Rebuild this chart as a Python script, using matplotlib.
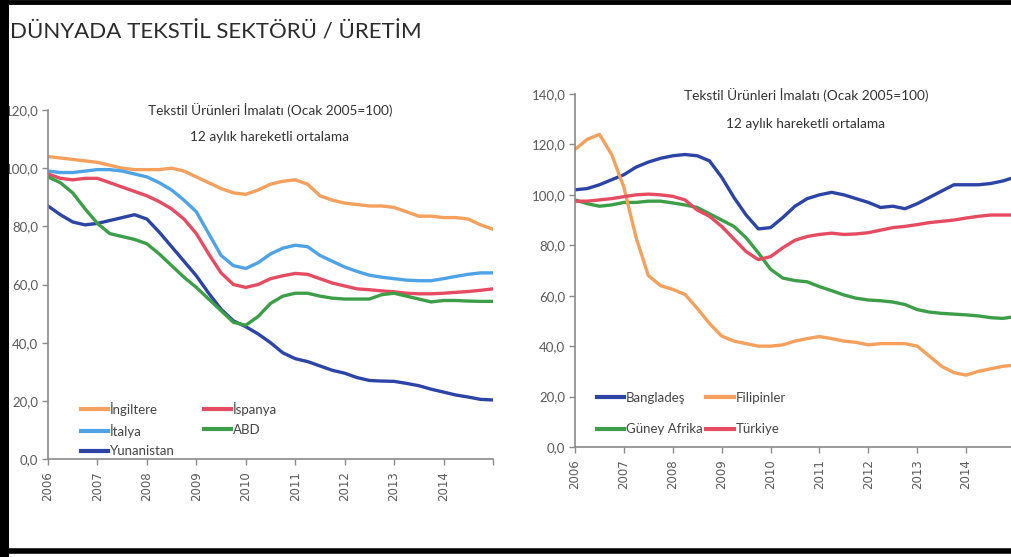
import numpy as np
import matplotlib
matplotlib.use("Agg")
import matplotlib.pyplot as plt
from matplotlib.lines import Line2D
from matplotlib.ticker import FuncFormatter

NARROW = ["Lato", "DejaVu Sans"]

# quarterly points, 2006.0 .. 2015.0
years = np.arange(2006, 2015.01, 0.25)
year_ticks = list(range(2006, 2016))
year_labels = [str(y) for y in range(2006, 2015)] + [""]

# left chart: 12-month moving average, Jan 2005 = 100
ingiltere = [104, 103.5, 103, 102.5, 102, 101, 100, 99.5, 99.5, 99.5, 100, 99, 97, 95, 93, 91.5,
             91, 92.5, 94.5, 95.5, 96, 94.5, 90.5, 89, 88, 87.5, 87, 87, 86.5, 85, 83.5, 83.5,
             83, 83, 82.5, 80.5, 79]
italya = [99, 98.5, 98.5, 99, 99.5, 99.5, 99, 98, 97, 95, 92.5, 89, 85, 77.5, 70, 66.5,
          65.5, 67.5, 70.5, 72.5, 73.5, 73, 70, 68, 66, 64.5, 63.2, 62.5, 62, 61.5, 61.3, 61.3,
          62, 62.8, 63.5, 64, 64]
ispanya = [98, 96.5, 96, 96.5, 96.5, 95, 93.5, 92, 90.5, 88.5, 86, 82.5, 77.5, 70.5, 64, 60,
           59, 60, 62, 63, 63.8, 63.5, 62, 60.5, 59.5, 58.5, 58.2, 57.8, 57.5, 57, 56.8, 56.8,
           57, 57.3, 57.6, 58, 58.5]
abd = [97, 95, 91.5, 86, 81, 77.5, 76.5, 75.5, 74, 70.5, 66.5, 62.5, 59, 55, 51, 47,
       46, 49, 53.5, 56, 57, 57, 56, 55.3, 55, 55, 55, 56.5, 57, 56, 55, 54,
       54.5, 54.5, 54.3, 54.2, 54.2]
yunanistan = [87, 84, 81.5, 80.5, 81, 82, 83, 84, 82.5, 78, 73, 68, 63, 57, 51.5, 47.5,
              45.5, 43, 40, 36.5, 34.5, 33.5, 32, 30.5, 29.5, 28, 27, 26.8, 26.7, 26, 25.2, 24,
              23, 22, 21.3, 20.5, 20.3]

# right chart
banglades = [102, 102.5, 104, 106, 108, 111, 113, 114.5, 115.5, 116, 115.5, 113.5, 107, 99, 92, 86.5,
             87, 91, 95.5, 98.5, 100, 101, 100, 98.5, 97, 95, 95.5, 94.5, 96.5, 99, 101.5, 104,
             104, 104, 104.5, 105.5, 107]
filipinler = [118, 122, 124, 116, 103, 83, 68, 64, 62.5, 60.5, 55, 49, 44, 42, 41, 40,
              40, 40.5, 42, 43, 43.8, 43, 42, 41.5, 40.5, 41, 41, 41, 40, 36, 32, 29.5,
              28.5, 30, 31, 32, 32.5]
guney_afrika = [98, 96.5, 95.5, 96, 97, 97, 97.5, 97.5, 96.8, 96, 95, 92.5, 90, 87.5, 83, 77,
                70.5, 67, 66, 65.5, 63.6, 62, 60.3, 59, 58.3, 58, 57.5, 56.5, 54.5, 53.5, 53, 52.7,
                52.4, 52, 51.3, 51, 51.7]
turkiye = [97.5, 97.5, 98, 98.5, 99.3, 100, 100.3, 100, 99.4, 98, 94, 91.5, 87.5, 82.5, 77.5, 74.3,
           75.5, 79, 82, 83.5, 84.3, 84.8, 84.3, 84.5, 85, 86, 87, 87.5, 88.2, 89, 89.5, 90,
           90.8, 91.5, 92, 92, 92]

title_1 = "Tekstil Ürünleri İmalatı (Ocak 2005=100)"
title_2 = "12 aylık hareketli ortalama"

ORANGE = "#f5a05c"
LBLUE = "#4ea3e6"
RED = "#e64c61"
GREEN = "#3c9f48"
DBLUE = "#2c44a6"

W, H = 1012, 557


def fx(px):
    return px / W


def fy(py):
    return 1 - py / H


def style_axes(ax, ymax, ystep):
    ax.set_xlim(2006, 2015)
    ax.set_ylim(0, ymax)
    for s in ["top", "right"]:
        ax.spines[s].set_visible(False)
    for s in ["left", "bottom"]:
        ax.spines[s].set_color("#8a8a8a")
        ax.spines[s].set_linewidth(1.2)
    ax.set_yticks(np.arange(0, ymax + 1, ystep))
    ax.yaxis.set_major_formatter(FuncFormatter(lambda v, p: f"{v:.1f}".replace(".", ",")))
    ax.set_xticks(year_ticks)
    ax.set_xticklabels(year_labels, rotation=90, family="DejaVu Sans", fontsize=8.5, color="#5a5a5a")
    for lab in ax.get_yticklabels():
        lab.set_family(NARROW)
        lab.set_fontsize(9.5)
        lab.set_color("#5a5a5a")
    ax.tick_params(axis="both", direction="out", length=4, color="#8a8a8a", width=1)
    ax.tick_params(axis="y", pad=3)
    ax.tick_params(axis="x", pad=5)


def add_legend(ax, anchor, colspace, rowspace):
    leg = ax.legend(loc="upper left", bbox_to_anchor=anchor, bbox_transform=fig.transFigure,
                    ncol=2, frameon=False, prop={"family": NARROW, "size": 9.5},
                    handlelength=2.1, handletextpad=0.1, columnspacing=colspace,
                    labelspacing=rowspace, borderpad=0)
    for t in leg.get_texts():
        t.set_color("#444444")
    for h in leg.get_lines():
        h.set_linewidth(3)


fig = plt.figure(figsize=(W / 100, H / 100), dpi=100)

fig.text(fx(10), fy(32), "DÜNYADA TEKSTİL SEKTÖRÜ / ÜRETİM", family=NARROW, fontsize=16,
         color="#2b2b2b", va="center")

lw = 2.4

# left chart
ax1 = fig.add_axes([fx(48), 98 / H, 445 / W, 349 / H])
ax1.plot(years, ingiltere, color=ORANGE, lw=lw, label="İngiltere")
ax1.plot(years, italya, color=LBLUE, lw=lw, label="İtalya")
ax1.plot(years, yunanistan, color=DBLUE, lw=lw, label="Yunanistan")
ax1.plot(years, ispanya, color=RED, lw=lw, label="İspanya")
ax1.plot(years, abd, color=GREEN, lw=lw, label="ABD")
style_axes(ax1, 120, 20)
fig.text(fx(270), fy(110), title_1, ha="center", va="center", family=NARROW, fontsize=9.8, color="#333333")
fig.text(fx(270), fy(137), title_2, ha="center", va="center", family=NARROW, fontsize=9.8, color="#333333")
add_legend(ax1, (fx(74), fy(395)), 2.2, 0.6)

# right chart
ax2 = fig.add_axes([fx(575), 110 / H, 440 / W, 353 / H])
ax2.plot(years, banglades, color=DBLUE, lw=lw, label="Bangladeş")
ax2.plot(years, guney_afrika, color=GREEN, lw=lw, label="Güney Afrika")
ax2.plot(years, filipinler, color=ORANGE, lw=lw, label="Filipinler")
ax2.plot(years, turkiye, color=RED, lw=lw, label="Türkiye")
style_axes(ax2, 140, 20)
fig.text(fx(806), fy(95), title_1, ha="center", va="center", family=NARROW, fontsize=9.8, color="#333333")
fig.text(fx(806), fy(124), title_2, ha="center", va="center", family=NARROW, fontsize=9.8, color="#333333")
add_legend(ax2, (fx(590), fy(385)), 0.3, 1.5)

# black border of the scanned slide
fig.add_artist(Line2D([0, 1], [fy(2), fy(2)], color="black", lw=3.5, transform=fig.transFigure))
fig.add_artist(Line2D([fx(4), fx(4)], [0, 1], color="black", lw=6.5, transform=fig.transFigure))
fig.add_artist(Line2D([0, 1], [fy(551), fy(551)], color="black", lw=4, transform=fig.transFigure))

fig.savefig("out.png", dpi=100, facecolor="white")
